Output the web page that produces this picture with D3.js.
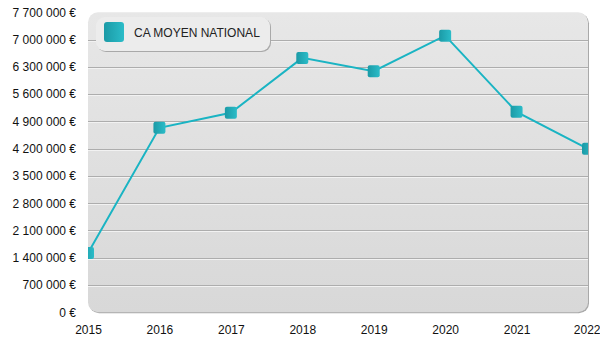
<!DOCTYPE html>
<html><head><meta charset="utf-8">
<script src="https://cdn.jsdelivr.net/npm/d3@7/dist/d3.min.js"></script>
<style>body{margin:0;background:#fff}svg{display:block;font-family:"Liberation Sans",Arial,sans-serif}</style>
</head><body><svg id="c" width="600" height="350"></svg>
<script>
const years = ["2015","2016","2017","2018","2019","2020","2021","2022"];
const values = [1520000, 4735000, 5120000, 6530000, 6190000, 7100000, 5145000, 4195000];
const yTicks = [0,700000,1400000,2100000,2800000,3500000,4200000,4900000,5600000,6300000,7000000,7700000];
const seriesName = "CA MOYEN NATIONAL";

const svg = d3.select("#c");
const L=88, R=588, T=12.3, B=312.3;
const x = d3.scalePoint().domain(years).range([L,R]);
const y = d3.scaleLinear().domain([0,7700000]).range([B,T]);
const fmt = v => d3.format(",")(v).replace(/,/g," ") + " €";

const defs = svg.append("defs");
const pg = defs.append("linearGradient").attr("id","pg").attr("x1",0).attr("y1",0).attr("x2",0).attr("y2",1);
pg.append("stop").attr("offset","0%").attr("stop-color","#e7e7e7");
pg.append("stop").attr("offset","100%").attr("stop-color","#d8d8d8");
const mg = defs.append("linearGradient").attr("id","mg").attr("x1",0).attr("y1",0).attr("x2",1).attr("y2",0);
mg.append("stop").attr("offset","0%").attr("stop-color","#1b9aa6");
mg.append("stop").attr("offset","100%").attr("stop-color","#2bbcc8");
defs.append("clipPath").attr("id","clip").append("rect")
  .attr("x",L).attr("y",T).attr("width",R-L).attr("height",B-T).attr("rx",10);

svg.append("rect").attr("x",L+1).attr("y",T+1).attr("width",R-L).attr("height",B-T).attr("rx",10).attr("fill","#a9a9a9");
svg.append("rect").attr("x",L).attr("y",T).attr("width",R-L).attr("height",B-T).attr("rx",10).attr("fill","url(#pg)");

const grid = svg.append("g");
yTicks.filter(v=>v>0 && v<7700000).forEach(v=>{
  grid.append("line").attr("x1",L).attr("x2",R).attr("y1",Math.round(y(v))+0.5).attr("y2",Math.round(y(v))+0.5).attr("stroke","#adadad").attr("stroke-width",1);
  grid.append("line").attr("x1",L).attr("x2",R).attr("y1",Math.round(y(v))+1.5).attr("y2",Math.round(y(v))+1.5).attr("stroke","#f2f2f2").attr("stroke-width",1);
});

const ya = svg.append("g").attr("transform",`translate(${L},0)`)
  .call(d3.axisLeft(y).tickValues(yTicks).tickFormat(fmt).tickSize(0).tickPadding(12));
ya.select(".domain").remove();
ya.selectAll("text").attr("font-size",12).attr("fill","#111").attr("font-family","'Liberation Sans',Arial,sans-serif");

const xa = svg.append("g").attr("transform",`translate(0,${B})`)
  .call(d3.axisBottom(x).tickSize(0).tickPadding(13));
xa.select(".domain").remove();
xa.selectAll("text").attr("font-size",12).attr("fill","#111").attr("font-family","'Liberation Sans',Arial,sans-serif");
xa.selectAll("text").filter(d=>d===years[years.length-1]).attr("text-anchor","end").attr("dx",12);

const plot = svg.append("g").attr("clip-path","url(#clip)");
const data = years.map((yr,i)=>({yr, v: values[i]}));
plot.append("path").datum(data)
  .attr("d", d3.line().x(d=>x(d.yr)).y(d=>y(d.v)))
  .attr("fill","none").attr("stroke","#1ab4c3").attr("stroke-width",2);
plot.selectAll("rect.m").data(data).join("rect").attr("class","m")
  .attr("x",d=>x(d.yr)-6).attr("y",d=>y(d.v)-6).attr("width",12).attr("height",12).attr("rx",2)
  .attr("fill","url(#mg)");

const lg = svg.append("g");
lg.append("rect").attr("x",97).attr("y",18).attr("width",174).attr("height",34).attr("rx",9).attr("fill","#a9a9a9");
lg.append("rect").attr("x",96).attr("y",17).attr("width",174).attr("height",34).attr("rx",9).attr("fill","#ececec");
lg.append("rect").attr("x",104).attr("y",22).attr("width",20).attr("height",20).attr("rx",3).attr("fill","url(#mg)");
lg.append("text").attr("x",134).attr("y",36.5).attr("font-size",12).attr("fill","#222").text(seriesName);
</script></body></html>
